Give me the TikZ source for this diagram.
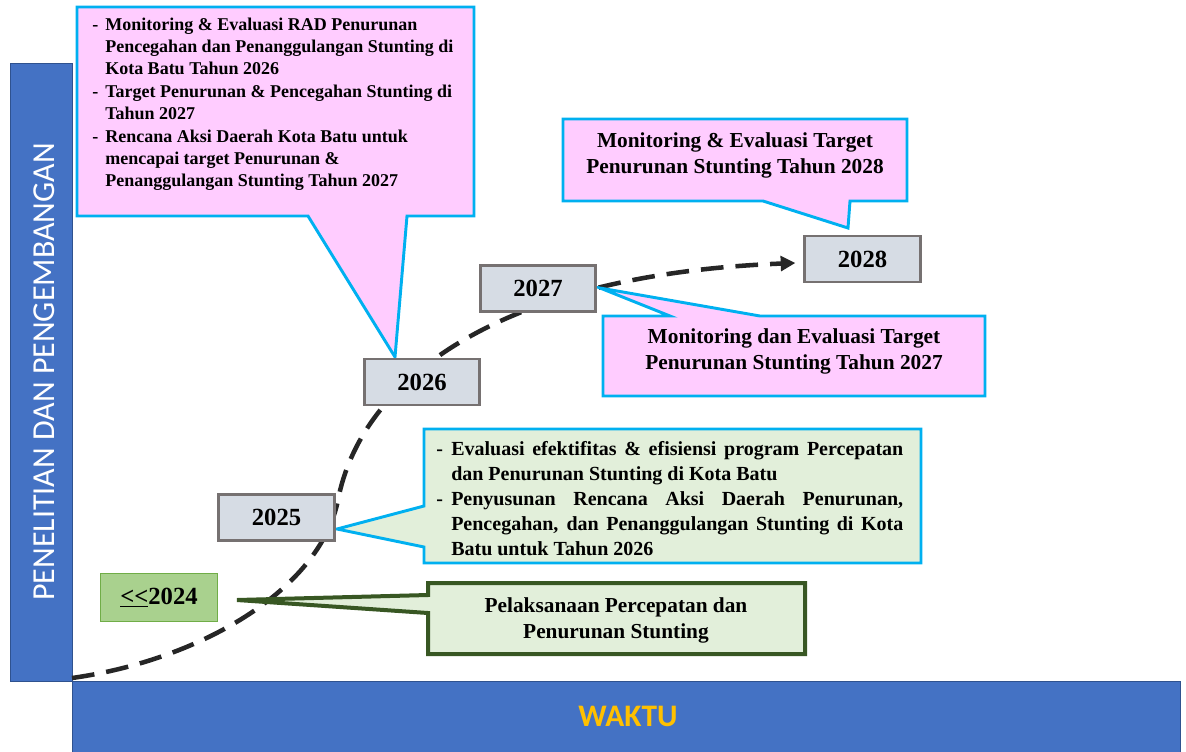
\documentclass[tikz,border=0pt]{standalone}
\usepackage{fontspec}
\setmainfont{Liberation Serif}
\newfontfamily\calibrifont{Carlito}
\usetikzlibrary{arrows.meta,backgrounds}
\definecolor{barblue}{HTML}{4472C4}
\definecolor{barline}{HTML}{2F528F}
\definecolor{pinkfill}{HTML}{FFCCFF}
\definecolor{cyanline}{HTML}{00B0F0}
\definecolor{lgreen}{HTML}{E2EFDA}
\definecolor{dgreen}{HTML}{385723}
\definecolor{boxfill}{HTML}{D6DCE4}
\definecolor{boxline}{HTML}{767171}
\definecolor{gfill}{HTML}{A9D18E}
\definecolor{gline}{HTML}{70AD47}
\definecolor{gold}{HTML}{FFC000}
\definecolor{curvecol}{HTML}{262626}
\tikzset{
  bar/.style={fill=barblue, draw=barline, line width=0.6pt},
  yearbox/.style={draw=boxline, line width=2.2pt, fill=boxfill, minimum width=86.5pt, minimum height=34.5pt, inner sep=0pt, font=\bfseries\fontsize{18.5}{22}\selectfont},
  greenbox/.style={draw=gline, line width=1.1pt, fill=gfill, minimum width=87.5pt, minimum height=36pt, inner sep=0pt, font=\bfseries\fontsize{18.5}{22}\selectfont},
  callpink/.style={fill=pinkfill, draw=cyanline, line width=2.2pt, line join=miter},
  callgreen/.style={fill=lgreen, draw=cyanline, line width=2.2pt, line join=miter},
  calldark/.style={fill=lgreen, draw=dgreen, line width=3pt, line join=miter},
  curve/.style={draw=curvecol, line width=3.4pt, dash pattern=on 17pt off 9pt, -{Triangle[length=11pt,width=11pt]}},
  calltext/.style={inner sep=0pt, align=center, font=\bfseries\fontsize{16}{19.5}\selectfont},
  listtext/.style={inner sep=0pt, anchor=base west},
}
\begin{document}
\begin{tikzpicture}[x=0.75pt,y=-0.75pt]
\useasboundingbox (0,0) rectangle (1186,751);

% callouts
\path[callpink] (77,7) -- (474,7) -- (474,216) -- (407,216) -- (395,357) -- (308,216) -- (77,216) -- cycle;
\path[callpink] (563,119) -- (907,119) -- (907,201) -- (850,201) -- (848,228) -- (763,201) -- (563,201) -- cycle;
\path[callpink] (603,316) -- (670,316) -- (600,288) -- (760,316) -- (985,316) -- (985,396) -- (603,396) -- cycle;
\path[callgreen] (424,429) -- (921,429) -- (921,563) -- (424,563) -- (424,547) -- (337,529) -- (424,506) -- cycle;
\path[calldark] (428,583) -- (805,583) -- (805,654) -- (428,654) -- (428,613) -- (237,600) -- (428,595) -- cycle;

% boxes
\node[greenbox] (n2024) at (159,597.5) {\underline{<\kern0pt<}2024};
\node[yearbox] (n2025) at (276.5,517.5) {2025};
\node[yearbox] (n2026) at (422,382) {2026};
\node[yearbox] (n2027) at (538,288.5) {2027};
\node[yearbox] (n2028) at (862.5,259) {2028};

% axes bars and dashed growth curve behind everything
\begin{scope}[on background layer]
\path[bar] (10,63) rectangle (72,681);
\path[bar] (72,681) rectangle (1180,752);
\coordinate (start) at (72,678);
\coordinate (mid) at (338,500);
\draw[curve] (start) .. controls (200,660) and (320,590) .. (mid)
  .. controls (360,385) and (490,275) .. ([shift={(-8,4)}]n2028.west);
\end{scope}
\node[rotate=90, text=white, font=\calibrifont\fontsize{24}{28}\selectfont] (vlabel) at (44,372) {PENELITIAN DAN PENGEMBANGAN};
\node[text=gold, font=\calibrifont\bfseries\fontsize{23.5}{28}\selectfont] (hlabel) at (628,716) {WAKTU};

% callout texts
\node[listtext, font=\bfseries\fontsize{13.5}{16.8}\selectfont] (t2026) at (92,30) {\begin{tabular}[t]{@{}p{9.75pt}@{}l@{}}
- & Monitoring \& Evaluasi RAD Penurunan\\
  & Pencegahan dan Penanggulangan Stunting di\\
  & Kota Batu Tahun 2026\\
- & Target Penurunan \& Pencegahan Stunting di\\
  & Tahun 2027\\
- & Rencana Aksi Daerah Kota Batu untuk\\
  & mencapai target Penurunan \&\\
  & Penanggulangan Stunting Tahun 2027
\end{tabular}};
\node[calltext] (t2028) at (735,155) {Monitoring \& Evaluasi Target\\Penurunan Stunting Tahun 2028};
\node[calltext] (t2027) at (794,351) {Monitoring dan Evaluasi Target\\Penurunan Stunting Tahun 2027};
\node[listtext, font=\bfseries\fontsize{15}{18.75}\selectfont] (t2025) at (436,455) {\begin{tabular}[t]{@{}p{11.25pt}@{}l@{}}
- & \makebox[339pt][s]{Evaluasi efektifitas \& efisiensi program Percepatan}\\
  & dan Penurunan Stunting di Kota Batu\\
- & \makebox[339pt][s]{Penyusunan Rencana Aksi Daerah Penurunan,}\\
  & \makebox[339pt][s]{Pencegahan, dan Penanggulangan Stunting di Kota}\\
  & Batu untuk Tahun 2026
\end{tabular}};
\node[calltext] (t2024) at (616,620) {Pelaksanaan Percepatan dan\\Penurunan Stunting};
\end{tikzpicture}
\end{document}
